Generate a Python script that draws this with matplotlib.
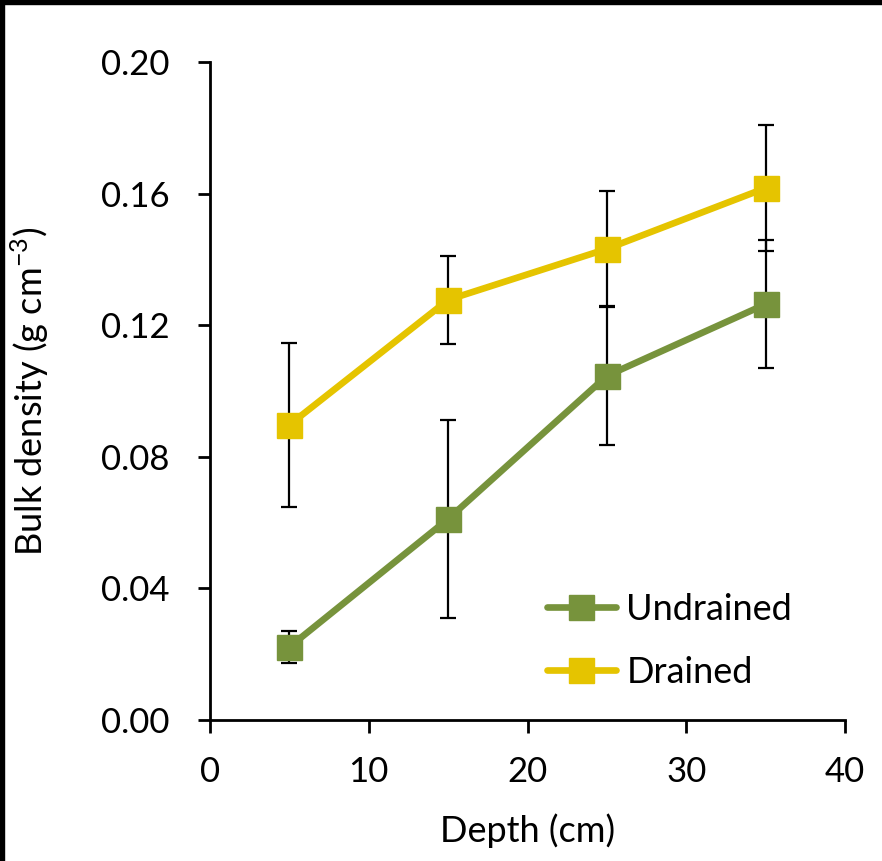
import matplotlib
matplotlib.use("Agg")
import matplotlib.pyplot as plt
from matplotlib.lines import Line2D

plt.rcParams["font.family"] = ["Lato", "DejaVu Sans"]

# Data
depth = [5, 15, 25, 35]
undrained = [0.0222, 0.0611, 0.1046, 0.1264]
undrained_err = [0.0048, 0.0302, 0.0210, 0.0195]
drained = [0.0897, 0.1277, 0.1432, 0.1617]
drained_err = [0.0250, 0.0133, 0.0175, 0.0190]

GREEN = "#77933C"
YELLOW = "#E5C400"

fig = plt.figure(figsize=(8.82, 8.61), dpi=100)
ax = fig.add_axes([210 / 882, 141 / 861, 635 / 882, 658 / 861])

for y, e in [(undrained, undrained_err), (drained, drained_err)]:
    ax.errorbar(depth, y, yerr=e, fmt="none", ecolor="black", elinewidth=1.6,
                capsize=5.5, capthick=1.6, zorder=2)

for y, c, lab in [(undrained, GREEN, "Undrained"), (drained, YELLOW, "Drained")]:
    ax.plot(depth, y, color=c, lw=4.8, marker="s", ms=18, mec=c, mfc=c,
            solid_capstyle="round", label=lab, zorder=3)

ax.set_xlim(0, 40)
ax.set_ylim(0, 0.20)
ax.set_xticks([0, 10, 20, 30, 40])
ax.set_yticks([0.00, 0.04, 0.08, 0.12, 0.16, 0.20])
ax.set_yticklabels(["0.00", "0.04", "0.08", "0.12", "0.16", "0.20"])

for s in ["top", "right"]:
    ax.spines[s].set_visible(False)
for s in ["left", "bottom"]:
    ax.spines[s].set_linewidth(2.0)
ax.tick_params(direction="out", length=9, width=2.0, labelsize=25)
ax.tick_params(axis="y", pad=20)
ax.tick_params(axis="x", pad=17)

ax.set_xlabel("Depth (cm)", fontsize=26, labelpad=18)
ax.set_ylabel(r"Bulk density (g cm$^{\mathregular{-3}}$)", fontsize=26)
ax.yaxis.set_label_coords(-0.25, 0.5)

handles = [Line2D([], [], color=c, lw=4.8, marker="s", ms=18, solid_capstyle="round")
           for c in (GREEN, YELLOW)]
ax.legend(handles, ["Undrained", "Drained"], loc="upper left",
          bbox_to_anchor=((547 - 210) / 635, (720 - 593) / 658),
          frameon=False, fontsize=26, borderpad=0, borderaxespad=0,
          handlelength=1.9, handletextpad=0.3, labelspacing=0.83)

# black frame on top and left edges
fig.add_artist(plt.Rectangle((0, 1 - 4 / 861), 1, 4 / 861, color="black",
                             transform=fig.transFigure))
fig.add_artist(plt.Rectangle((0, 0), 4 / 882, 1, color="black",
                             transform=fig.transFigure))

fig.savefig("out.png", dpi=100)
